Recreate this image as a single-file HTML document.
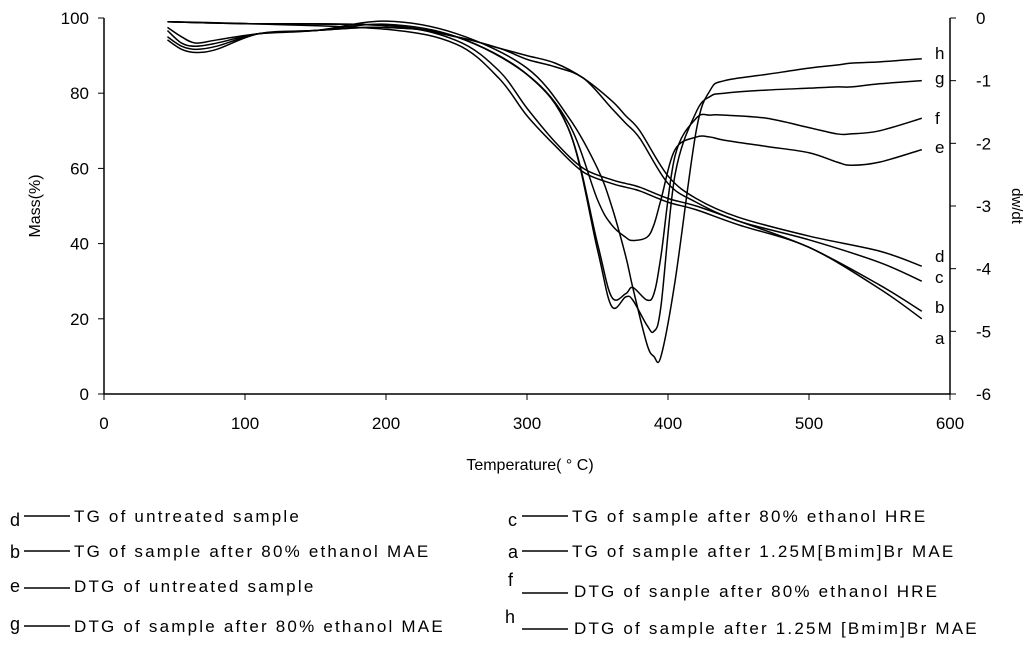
<!DOCTYPE html>
<html><head><meta charset="utf-8"><style>
body{margin:0;background:#fff;width:1024px;height:647px;overflow:hidden;font-family:"Liberation Sans",sans-serif}
svg text{font-family:"Liberation Sans",sans-serif;fill:#000}
.lg text{letter-spacing:2.2px}
</style></head><body>
<svg id="chart" width="1024" height="647" viewBox="0 0 1024 647" xmlns="http://www.w3.org/2000/svg">
<g id="axes"></g>
<g id="series" fill="none" stroke="#000" stroke-width="1.5"></g>
<g id="labels" font-size="17"></g>
<text x="530" y="470" font-size="16" text-anchor="middle">Temperature( ° C)</text>
<text transform="translate(40,206) rotate(-90)" font-size="16" text-anchor="middle">Mass(%)</text>
<text transform="translate(1012,206) rotate(90)" font-size="15" text-anchor="middle">dw/dt</text>
<g font-size="17" class="lg">
<g><text x="10" y="526" font-family="Liberation Serif" font-size="18">d</text><line x1="24" y1="516" x2="70" y2="516" stroke="#000" stroke-width="1.5"/><text x="74" y="522">TG of untreated sample</text></g>
<g><text x="10" y="558" font-family="Liberation Serif" font-size="18">b</text><line x1="24" y1="551" x2="70" y2="551" stroke="#000" stroke-width="1.5"/><text x="74" y="557">TG of sample after 80% ethanol MAE</text></g>
<g><text x="10" y="592" font-family="Liberation Serif" font-size="18">e</text><line x1="24" y1="588" x2="70" y2="588" stroke="#000" stroke-width="1.5"/><text x="74" y="592">DTG of untreated sample</text></g>
<g><text x="10" y="630" font-family="Liberation Serif" font-size="18">g</text><line x1="24" y1="626" x2="70" y2="626" stroke="#000" stroke-width="1.5"/><text x="74" y="632">DTG of sample after 80% ethanol MAE</text></g>
<g><text x="508" y="526" font-family="Liberation Serif" font-size="18">c</text><line x1="522" y1="516" x2="568" y2="516" stroke="#000" stroke-width="1.5"/><text x="572" y="522">TG of sample after 80% ethanol HRE</text></g>
<g><text x="508" y="558" font-family="Liberation Serif" font-size="18">a</text><line x1="522" y1="551" x2="568" y2="551" stroke="#000" stroke-width="1.5"/><text x="572" y="557">TG of sample after 1.25M[Bmim]Br MAE</text></g>
<g><text x="508" y="586" font-family="Liberation Serif" font-size="18">f</text><line x1="522" y1="593" x2="568" y2="593" stroke="#000" stroke-width="1.5"/><text x="574" y="597">DTG of sanple after 80% ethanol HRE</text></g>
<g><text x="505" y="623" font-family="Liberation Serif" font-size="18">h</text><line x1="522" y1="629" x2="568" y2="629" stroke="#000" stroke-width="1.5"/><text x="574" y="634">DTG of sample after 1.25M  [Bmim]Br MAE</text></g>
</g>
</svg>
<script>
const xTicks=[0,100,200,300,400,500,600];
const yTicks=[0,20,40,60,80,100];
const y2Ticks=[0,-1,-2,-3,-4,-5,-6];
const tgTemps=[45,100,200,250,280,300,320,340,360,370,380,400,420,450,500,550,580];
const tgD=[99,98.5,98,95,92,90,88,84,78,74,70,58,52,47,42,38,34];
const tgC=[99,98.5,98,95,92,89,87,84,76,72,68,56,51,46,41,35,30];
const tgB=[99,98.5,98,94,86,76,67,60,57,56,55,52,50,46,39,29,22];
const tgA=[99,98.5,97,93,84,74,66,59,56,55,54,51,49,45,39,28,20];
const dtgTemps=[45,55,65,80,110,150,200,250,300,330,350,360,370,375,385,390,395,405,420,430,440,470,500,520,530,550,580];
const dtgE=[-0.3,-0.45,-0.5,-0.45,-0.25,-0.2,-0.15,-0.3,-0.9,-1.7,-2.9,-3.3,-3.5,-3.55,-3.5,-3.3,-2.9,-2.1,-1.9,-1.9,-1.95,-2.05,-2.15,-2.3,-2.35,-2.3,-2.1];
const dtgF=[-0.35,-0.5,-0.55,-0.5,-0.25,-0.2,-0.15,-0.3,-0.9,-1.8,-3.6,-4.45,-4.4,-4.3,-4.5,-4.4,-3.8,-2.2,-1.6,-1.55,-1.55,-1.6,-1.75,-1.85,-1.85,-1.8,-1.6];
const dtgG=[-0.2,-0.4,-0.45,-0.4,-0.25,-0.2,-0.1,-0.3,-0.9,-1.8,-3.7,-4.6,-4.45,-4.5,-4.9,-5.0,-4.6,-2.5,-1.5,-1.25,-1.2,-1.15,-1.12,-1.1,-1.1,-1.05,-1.0];
const dtgH=[-0.15,-0.3,-0.4,-0.35,-0.25,-0.2,-0.05,-0.25,-0.8,-1.6,-2.4,-3.0,-3.8,-4.3,-5.2,-5.4,-5.4,-4.2,-1.8,-1.15,-1.0,-0.9,-0.8,-0.75,-0.72,-0.7,-0.65];
const NS="http://www.w3.org/2000/svg";
const X0=104,X1=950,Y0=394,Y1=18;
const xs=t=>X0+(t/600)*(X1-X0);
const ys=m=>Y0-(m/100)*(Y0-Y1);
const y2s=d=>Y1+(-d/6)*(Y0-Y1);
function mk(tag,attrs,parent){const e=document.createElementNS(NS,tag);for(const k in attrs)e.setAttribute(k,attrs[k]);parent.appendChild(e);return e;}
const axes=document.getElementById('axes');
let ln=mk('path',{d:`M${X0},${Y1}V${Y0}H${X1}V${Y1}`,fill:'none',stroke:'#000','stroke-width':1.5},axes);


xTicks.forEach(t=>{
 const l=mk('line',{x1:xs(t),x2:xs(t),y1:Y0,y2:Y0+6,stroke:'#000'},axes);
 
 
 const tx=mk('text',{x:xs(t),y:Y0+35,'font-size':17,'text-anchor':'middle'},axes);tx.textContent=t;
 
 
});
yTicks.forEach(v=>{
 const l=mk('line',{x1:X0-6,x2:X0,y1:ys(v),y2:ys(v),stroke:'#000'},axes);
 
 
 const tx=mk('text',{x:X0-15,y:ys(v)+6,'font-size':17,'text-anchor':'end'},axes);tx.textContent=v;
 
 
});
y2Ticks.forEach(v=>{
 const l=mk('line',{x1:X1,x2:X1+6,y1:y2s(v),y2:y2s(v),stroke:'#000'},axes);
 
 
 const tx=mk('text',{x:X1+26,y:y2s(v)+6,'font-size':17,'text-anchor':'start'},axes);tx.textContent=v;
 
 
});
const series=document.getElementById('series');
function smooth(pts){let d=`M${pts[0][0]},${pts[0][1]}`;for(let i=1;i<pts.length;i++){const p0=pts[Math.max(0,i-2)],p1=pts[i-1],p2=pts[i],p3=pts[Math.min(pts.length-1,i+1)];const c1x=p1[0]+(p2[0]-p0[0])/6,c1y=p1[1]+(p2[1]-p0[1])/6,c2x=p2[0]-(p3[0]-p1[0])/6,c2y=p2[1]-(p3[1]-p1[1])/6;d+=`C${c1x},${c1y} ${c2x},${c2y} ${p2[0]},${p2[1]}`;}return d;}
function draw(temps,vals,yf,name){const p=mk('path',{d:smooth(temps.map((t,i)=>[xs(t),yf(vals[i])]))},series);}
draw(tgTemps,tgD,ys,'tg-untreated-d');
draw(tgTemps,tgC,ys,'tg-hre-c');
draw(tgTemps,tgB,ys,'tg-mae-b');
draw(tgTemps,tgA,ys,'tg-bmim-a');
draw(dtgTemps,dtgE,y2s,'dtg-untreated-e');
draw(dtgTemps,dtgF,y2s,'dtg-hre-f');
draw(dtgTemps,dtgG,y2s,'dtg-mae-g');
draw(dtgTemps,dtgH,y2s,'dtg-bmim-h');
const labs=document.getElementById('labels');
[['h',59],['g',84],['f',124],['e',153],['d',262],['c',283],['b',313],['a',344]].forEach(([c,y])=>{
 const t=mk('text',{x:935,y:y},labs);t.textContent=c;
 
 
});
</script>
</body></html>
